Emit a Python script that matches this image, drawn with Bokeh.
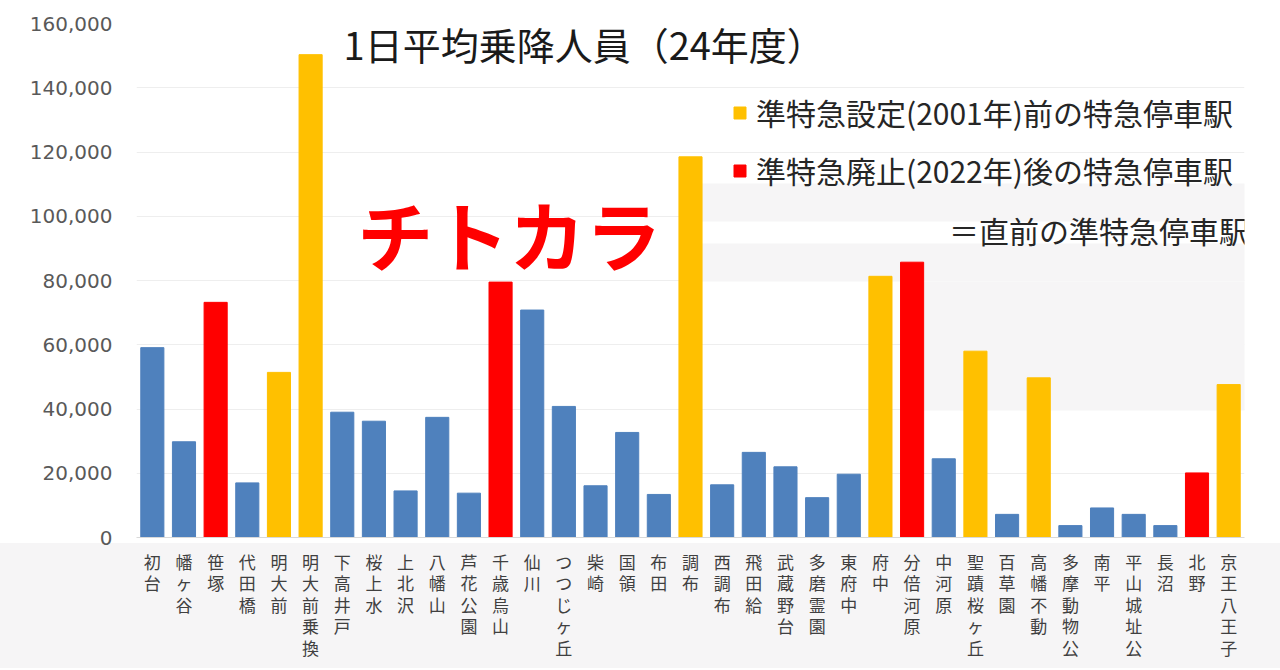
from bokeh.plotting import figure
from bokeh.models import (ColumnDataSource, FactorRange, Legend, LegendItem,
                          Label, BoxAnnotation, NumeralTickFormatter, FixedTicker)
from bokeh.embed import file_html
from bokeh.resources import INLINE

stations = ["初台", "幡ヶ谷", "笹塚", "代田橋", "明大前", "明大前乗換", "下高井戸", "桜上水",
            "上北沢", "八幡山", "芦花公園", "千歳烏山", "仙川", "つつじヶ丘", "柴崎", "国領",
            "布田", "調布", "西調布", "飛田給", "武蔵野台", "多磨霊園", "東府中", "府中",
            "分倍河原", "中河原", "聖蹟桜ヶ丘", "百草園", "高幡不動", "多摩動物公", "南平",
            "平山城址公", "長沼", "北野", "京王八王子"]
riders = [59100, 29800, 73200, 17000, 51400, 150300, 39000, 36200,
          14500, 37400, 13800, 79500, 70800, 40800, 16100, 32700,
          13400, 118500, 16400, 26500, 22000, 12400, 19700, 81300,
          85700, 24500, 58000, 7200, 49700, 3700, 9200,
          7200, 3700, 20100, 47600]
# 0 = その他, 1 = 準特急設定前の特急停車駅, 2 = 準特急廃止後の特急停車駅
kind = [0, 0, 2, 0, 1, 1, 0, 0,
        0, 0, 0, 2, 0, 0, 0, 0,
        0, 1, 0, 0, 0, 0, 0, 1,
        2, 0, 1, 0, 1, 0, 0,
        0, 0, 2, 1]
kind_colors = ["#4F81BD", "#FFC000", "#FF0000"]
legend_labels = ["準特急設定(2001年)前の特急停車駅", "準特急廃止(2022年)後の特急停車駅"]
note_text = "＝直前の準特急停車駅"
title_text = "1日平均乗降人員（24年度）"
big_text = "チトカラ"
y_ticks = [0, 20000, 40000, 60000, 80000, 100000, 120000, 140000, 160000]

factors = ["\n".join(s) for s in stations]
colors = [kind_colors[k] for k in kind]
src = ColumnDataSource(dict(x=factors, top=riders, color=colors))

JP = "Noto Sans CJK JP"

p = figure(x_range=FactorRange(factors=factors), y_range=(0, 160000),
           frame_width=1108, frame_height=514,
           min_border_left=136, min_border_right=36, min_border_top=23, min_border_bottom=133,
           output_backend="svg", toolbar_location=None,
           background_fill_color="white", border_fill_color="white", border_fill_alpha=0,
           outline_line_color=None)
p.styles = {"background": "linear-gradient(to bottom, #ffffff 0px, #ffffff 543px, #f6f5f6 543px, #f6f5f6 668px, #ffffff 668px)"}

# light grey patches of the original picture
for l, r, t, b in [(700, 1280, 183, 221), (700, 1280, 243, 281), (915, 1245, 281, 410)]:
    p.add_layout(BoxAnnotation(left=l, right=r, top=t, bottom=b,
                               left_units="canvas", right_units="canvas",
                               top_units="canvas", bottom_units="canvas",
                               fill_color="#f6f5f6", fill_alpha=1.0, line_color=None,
                               level="underlay"))

bars = p.vbar(x="x", top="top", width=0.73, source=src,
              fill_color="color", line_color="color")

p.xgrid.grid_line_color = None
p.ygrid.grid_line_color = "#eeeeee"
p.ygrid.grid_line_width = 1
p.yaxis.ticker = FixedTicker(ticks=y_ticks)
p.yaxis.formatter = NumeralTickFormatter(format="0,0")
p.yaxis.axis_line_color = None
p.yaxis.major_tick_line_color = None
p.yaxis.minor_tick_line_color = None
p.yaxis.major_label_text_font = "DejaVu Sans"
p.yaxis.major_label_text_font_size = "20px"
p.yaxis.major_label_text_color = "#595959"
p.yaxis.major_label_standoff = 18

p.xaxis.axis_line_color = "#d9d9d9"
p.xaxis.major_tick_line_color = None
p.xaxis.minor_tick_line_color = None
p.xaxis.major_label_text_font = JP
p.xaxis.major_label_text_font_size = "17px"
p.xaxis.major_label_text_line_height = 0.86
p.xaxis.major_label_text_color = "#404040"
p.xaxis.major_label_standoff = 5

first_orange = kind.index(1)
first_red = kind.index(2)
legend = Legend(items=[LegendItem(label=legend_labels[0], renderers=[bars], index=first_orange),
                       LegendItem(label=legend_labels[1], renderers=[bars], index=first_red)],
                location=(596, 344), orientation="vertical",
                glyph_width=15, glyph_height=15, label_height=46, spacing=12,
                label_standoff=9, padding=0, margin=0,
                label_text_font=JP, label_text_font_size="30px",
                label_text_color="#262626",
                border_line_color=None, background_fill_alpha=0)
p.add_layout(legend, "center")

p.add_layout(Label(x=6.54, y=153750, text=title_text, text_font=JP, text_font_size="38px",
                   text_color="#1a1a1a", text_baseline="middle", text_align="left"))
p.add_layout(Label(x=6.97, y=94850, text=big_text, text_font=JP, text_font_size="76px",
                   text_font_style="bold", text_color="#FF0000",
                   text_baseline="middle", text_align="left"))
p.add_layout(Label(x=35.14, y=95600, text=note_text, text_font=JP, text_font_size="30px",
                   text_color="#262626", text_baseline="middle", text_align="right"))

open("out.html", "w").write(file_html(p, INLINE))
